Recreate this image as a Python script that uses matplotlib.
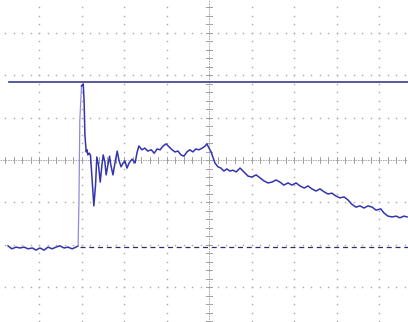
import numpy as np
import matplotlib.pyplot as plt

# scope trace, in divisions (x: time, y: volts)
t = [-4.73, -4.64, -4.54, -4.45, -4.35, -4.26, -4.16, -4.07, -3.98, -3.88,
     -3.79, -3.69, -3.60, -3.51, -3.41, -3.32, -3.22, -3.13, -3.08, -3.06,
     -3.04, -3.00, -2.96, -2.94, -2.92, -2.89, -2.87, -2.85, -2.82, -2.79,
     -2.75, -2.71, -2.67, -2.64, -2.60, -2.56, -2.52, -2.49, -2.45, -2.42,
     -2.38, -2.34, -2.31, -2.26, -2.21, -2.16, -2.12, -2.07, -2.02, -1.98,
     -1.93, -1.88, -1.81, -1.74, -1.69, -1.65, -1.58, -1.51, -1.44, -1.36,
     -1.29, -1.22, -1.15, -1.08, -1.01, -0.94, -0.87, -0.80, -0.73, -0.66,
     -0.59, -0.52, -0.45, -0.38, -0.31, -0.24, -0.16, -0.09, -0.05, 0.00,
     0.05, 0.09, 0.14, 0.21, 0.28, 0.35, 0.42, 0.49, 0.56, 0.64,
     0.73, 0.82, 0.92, 1.01, 1.11, 1.20, 1.29, 1.39, 1.48, 1.58,
     1.67, 1.76, 1.86, 1.95, 2.05, 2.14, 2.24, 2.33, 2.42, 2.52,
     2.61, 2.71, 2.80, 2.89, 2.99, 3.08, 3.18, 3.27, 3.36, 3.46,
     3.55, 3.65, 3.74, 3.84, 3.93, 4.04, 4.12, 4.21, 4.31, 4.40,
     4.49, 4.59, 4.66]
v = [-2.02, -2.09, -2.05, -2.07, -2.05, -2.09, -2.07, -2.12, -2.07, -2.12,
     -2.05, -2.09, -2.05, -2.02, -2.07, -2.05, -2.09, -2.05, -2.02, -0.94,
     0.94, 1.74, 1.79, 1.41, 0.59, 0.19, 0.24, 0.12, 0.16, 0.12,
     -0.47, -1.08, -0.59, 0.07, -0.12, -0.52, -0.12, 0.12, -0.05, -0.35,
     -0.12, 0.09, -0.12, -0.35, -0.05, 0.21, 0.00, -0.16, -0.07, -0.02,
     -0.19, -0.07, 0.02, -0.07, 0.19, 0.33, 0.24, 0.28, 0.21, 0.24,
     0.16, 0.26, 0.24, 0.33, 0.38, 0.31, 0.24, 0.19, 0.21, 0.12,
     0.09, 0.19, 0.24, 0.19, 0.26, 0.24, 0.28, 0.33, 0.38, 0.28,
     0.19, 0.07, -0.07, -0.16, -0.19, -0.26, -0.21, -0.26, -0.24, -0.28,
     -0.19, -0.28, -0.38, -0.40, -0.35, -0.42, -0.49, -0.54, -0.52, -0.47,
     -0.52, -0.59, -0.54, -0.59, -0.54, -0.61, -0.66, -0.61, -0.68, -0.73,
     -0.68, -0.75, -0.80, -0.78, -0.85, -0.89, -0.87, -0.94, -1.04, -1.11,
     -1.08, -1.13, -1.08, -1.11, -1.18, -1.15, -1.25, -1.32, -1.34, -1.32,
     -1.36, -1.32, -1.34]

cursor_level = 1.835     # solid cursor
ground_level = -2.05     # dashed reference
trig_time = -3.04

fig = plt.figure(figsize=(4.08, 3.22), dpi=100)
ax = fig.add_axes([0, 0, 1, 1])
ax.set_xlim(-4.918, 4.682)
ax.set_ylim(-3.812, 3.765)
ax.axis('off')

# dotted graticule
dot_c = '#a8a8a8'
for gx in range(-4, 5):
    if gx == 0:
        continue
    ys = np.arange(-19, 19) / 5
    ax.plot([gx] * len(ys), ys, ls='none', marker='s', ms=1.0, color=dot_c, mew=0)
for gy in range(-3, 4):
    if gy == 0:
        continue
    xs = np.arange(-24, 24) / 5
    ax.plot(xs, [gy] * len(xs), ls='none', marker='s', ms=1.0, color=dot_c, mew=0)

# center axes with minor ticks
ax_c = '#a0a0a0'
ax.axvline(0, color=ax_c, lw=0.6, ls=(0, (2, 1)))
ax.axhline(0, color=ax_c, lw=0.6, ls=(0, (2, 1)))
for k in np.arange(-19, 19) / 5:
    ax.plot([-0.07, 0.07], [k, k], color=ax_c, lw=0.7)
for k in np.arange(-24, 24) / 5:
    ax.plot([k, k], [-0.07, 0.07], color=ax_c, lw=0.7)

# cursors
ax.plot([-4.71, 4.682], [cursor_level, cursor_level], color='#3c3c8c', lw=1.2)
ax.plot([trig_time, 4.682], [ground_level, ground_level], color='#2c2c6c',
        lw=0.9, ls=(0, (4, 3)))

# trace (fast edge shows up faint on the screen)
ax.plot(t[:19], v[:19], color='#3434b0', lw=1.1)
ax.plot(t[18:22], v[18:22], color='#8c8cd8', lw=0.9)
ax.plot(t[21:], v[21:], color='#3434b0', lw=1.1)

fig.savefig('out.png', dpi=100)
